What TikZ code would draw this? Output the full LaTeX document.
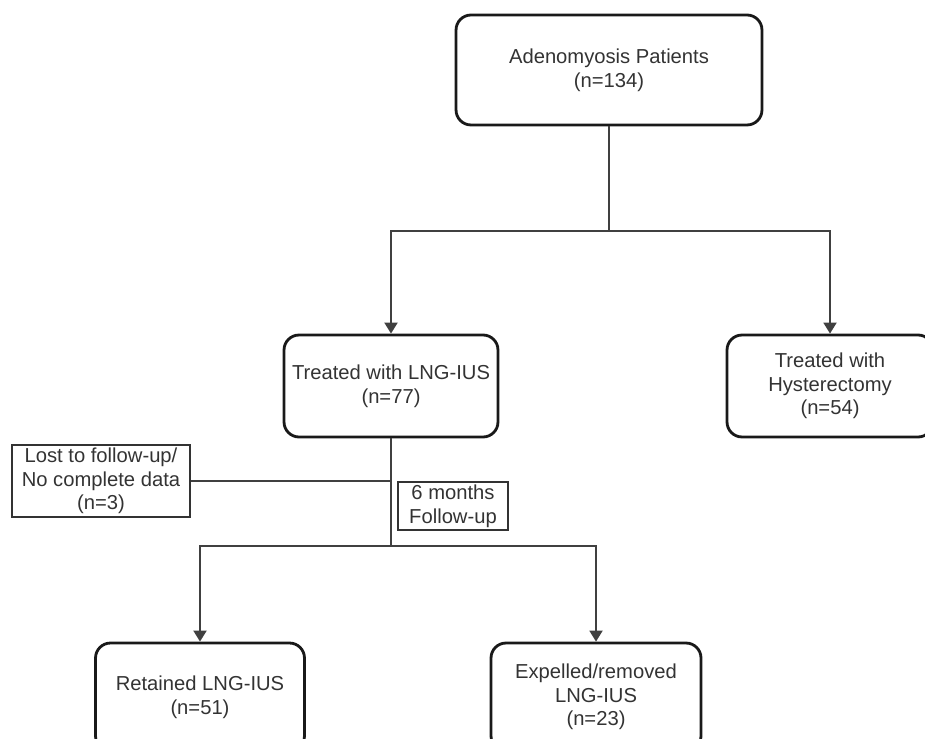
\documentclass[tikz,border=0pt]{standalone}
\usepackage{fontspec}
\setmainfont{Liberation Sans}
\usetikzlibrary{positioning, arrows.meta}

\begin{document}
\begin{tikzpicture}[x=0.02cm, y=-0.02cm,
    mainbox/.style={rectangle, rounded corners=0.3cm, draw=black!90, line width=1.6pt, align=center, text=black!80, font=\fontsize{11.5}{13.5}\selectfont},
    notebox/.style={rectangle, draw=black!80, line width=1pt, align=center, text=black!80, inner sep=1pt, font=\fontsize{11.5}{13.5}\selectfont},
    link/.style={draw=black!75, line width=1.1pt},
    arr/.style={link, -{Triangle[length=2.2mm, width=2.6mm]}}]

\useasboundingbox (0,0) rectangle (925,739);
\clip (0,0) rectangle (925,739);

%Nodes
\node (P) at (609,70) [mainbox, minimum width=6.12cm, minimum height=2.2cm] {Adenomyosis Patients\\(n=134)};
\node (L) at (391,386) [mainbox, minimum width=4.28cm, minimum height=2.04cm] {Treated with LNG-IUS\\(n=77)};
\node (H) at (830,386) [mainbox, minimum width=4.12cm, minimum height=2.04cm] {Treated with\\Hysterectomy\\(n=54)};

\coordinate (S1) at (609,231);
\draw[link] (P) -- (S1);
\draw[arr] (S1) -| (L);
\draw[arr] (S1) -| (H);

\node (X) at (101,481) [notebox, minimum width=3.56cm, minimum height=1.44cm] {Lost to follow-up/\\No complete data\\(n=3)};
\node (F) at (453,506) [notebox, minimum width=2.2cm, minimum height=0.96cm] {6 months\\Follow-up};

\coordinate (S2) at (391,546);
\draw[link] (L) -- (S2);
\draw[link] (X) -- (X -| S2);

\node (R) at (200,697) [mainbox, minimum width=4.18cm, minimum height=2.16cm] {Retained LNG-IUS\\(n=51)};
\node (E) at (596,697) [mainbox, minimum width=4.2cm, minimum height=2.16cm] {Expelled/removed\\LNG-IUS\\(n=23)};

\draw[arr] (S2) -| (R);
\draw[arr] (S2) -| (E);

\end{tikzpicture}
\end{document}
